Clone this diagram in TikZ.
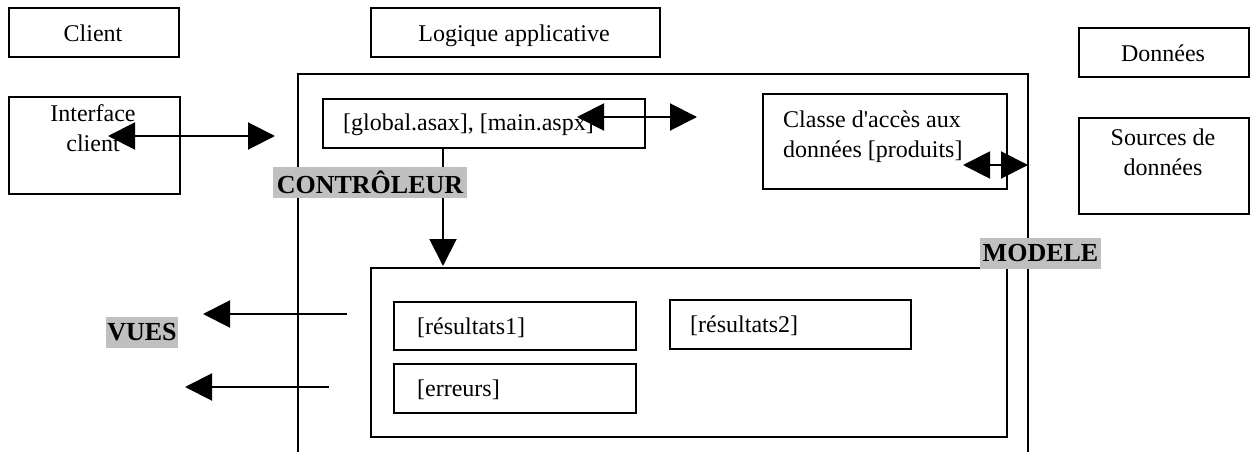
\documentclass[tikz,border=0pt]{standalone}
\usepackage{fontspec}
\setmainfont{Liberation Serif}
\usetikzlibrary{arrows.meta}
\definecolor{lblgray}{RGB}{192,192,192}
\begin{document}
\begin{tikzpicture}[x=1pt,y=-1pt,
  box/.style={draw, line width=2pt, rectangle, inner sep=0pt, anchor=north west},
  txtm/.style={font=\fontsize{24}{30}\selectfont, inner sep=0pt},
  txt/.style={txtm, text height=17pt, text depth=5.5pt},
  lbl/.style={fill=lblgray, font=\fontsize{26}{30}\selectfont\bfseries, inner xsep=1pt, inner ysep=0pt, minimum height=31pt},
  arr/.style={line width=2pt, -{Triangle[length=27pt,width=27pt]}},
  darr/.style={line width=2pt, {Triangle[length=27pt,width=27pt]}-{Triangle[length=27pt,width=27pt]}},
  frameline/.style={line width=1.4pt}]
\path[use as bounding box] (0,0) rectangle (1250,452);

% frame of the application logic
\coordinate (fbl) at (298,452);
\coordinate (ftl) at (298,74);
\coordinate (ftr) at (1028,74);
\coordinate (fbr) at (1028,452);
\draw[frameline] (fbl) -- (ftl) -- (ftr) -- (fbr);

% header boxes
\node[box, minimum width=170pt, minimum height=49pt] (client) at (8,7) {};
\node[txt] (clientt) at (93,36) {Client};
\node[box, minimum width=289pt, minimum height=49pt] (logic) at (370,7) {};
\node[txt] (logict) at (514,36) {Logique applicative};
\node[box, minimum width=170pt, minimum height=49pt] (donnees) at (1078,27) {};
\node[txt] (donneest) at (1163,56) {Données};

% other boxes
\node[box, minimum width=171pt, minimum height=97pt] (iface) at (8,96) {};
\node[txtm, align=center] (ifacet) at (93,128) {Interface\\client};
\node[box, minimum width=170pt, minimum height=96pt] (sources) at (1078,117) {};
\node[txtm, align=center] (sourcest) at (1163,152.5) {Sources de\\données};
\node[box, minimum width=322pt, minimum height=49pt] (glob) at (322,98) {};
\node[txt, anchor=west] (globt) at (343,125) {[global.asax], [main.aspx]};
\node[box, minimum width=244pt, minimum height=95pt] (classe) at (762,93) {};
\node[txtm, anchor=west, align=left] (classet) at (783,137) {Classe d\textquotesingle accès aux\\données [produits]};
\node[box, minimum width=636pt, minimum height=169pt] (inner) at (370,267) {};
\node[box, minimum width=242pt, minimum height=48pt] (res1) at (393,301) {};
\node[txt, anchor=west] (res1t) at (417,329) {[résultats1]};
\node[box, minimum width=241pt, minimum height=49pt] (res2) at (669,299) {};
\node[txt, anchor=west] (res2t) at (690,327) {[résultats2]};
\node[box, minimum width=242pt, minimum height=49pt] (err) at (393,363) {};
\node[txt, anchor=west] (errt) at (417,391) {[erreurs]};

% arrow end points
\coordinate (ia) at (108,136);
\coordinate (ib) at (275,136);
\coordinate (ga) at (577,117);
\coordinate (gb) at (697,117);
\coordinate (ca) at (963,165);
\coordinate (cb) at (1028,165);
\coordinate (da) at (443,147);
\coordinate (db) at (443,266);
\coordinate (l1a) at (347,314);
\coordinate (l1b) at (203,314);
\coordinate (l2a) at (329,387);
\coordinate (l2b) at (185,387);

\draw[darr] (ia) -- (ib);
\draw[darr] (ga) -- (gb);
\draw[darr] (ca) -- (cb);
\draw[arr] (da) -- (db);
\draw[arr] (l1a) -- (l1b);
\draw[arr] (l2a) -- (l2b);

% labels
\node[lbl, minimum width=194pt] (ctrl) at (370,182.5) {CONTRÔLEUR};
\node[lbl, minimum width=72pt] (vues) at (142,332.5) {VUES};
\node[lbl, minimum width=121pt] (modele) at (1040.5,253) {MODELE};
\end{tikzpicture}
\end{document}
